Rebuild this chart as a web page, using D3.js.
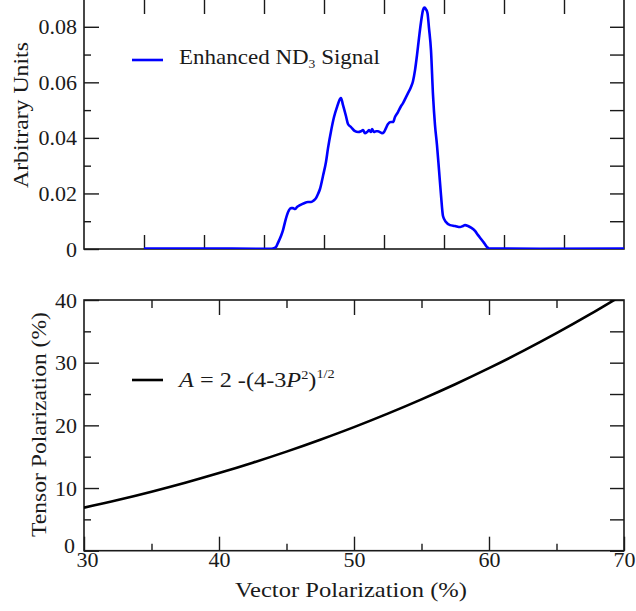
<!DOCTYPE html>
<html>
<head>
<meta charset="utf-8">
<script src="https://cdn.jsdelivr.net/npm/d3@7"></script>
<style>
  html, body { margin: 0; padding: 0; background: #fff; }
  svg { display: block; }
  text { font-family: "Liberation Serif", "DejaVu Serif", serif; fill: #1a1a1a; }
</style>
</head>
<body>
<svg id="chart" width="636" height="611"></svg>
<script>
// ---------- Data ----------
// Top panel: enhanced ND3 signal (arbitrary x units, arbitrary y units)
const signalX = [1.000, 1.933, 3.000, 3.100, 3.150, 3.200, 3.233, 3.283, 3.317, 3.350, 3.383, 3.417, 3.450, 3.483, 3.517, 3.550, 3.600, 3.667, 3.733, 3.783, 3.817, 3.867, 3.900, 3.933, 3.983, 4.033, 4.067, 4.117, 4.167, 4.217, 4.267, 4.283, 4.317, 4.367, 4.400, 4.450, 4.517, 4.567, 4.617, 4.650, 4.683, 4.717, 4.750, 4.783, 4.800, 4.833, 4.867, 4.900, 4.933, 4.967, 5.000, 5.033, 5.067, 5.117, 5.150, 5.183, 5.233, 5.283, 5.317, 5.367, 5.400, 5.450, 5.483, 5.517, 5.550, 5.583, 5.617, 5.650, 5.675, 5.700, 5.725, 5.750, 5.783, 5.817, 5.850, 5.883, 5.917, 5.950, 5.983, 6.033, 6.100, 6.183, 6.267, 6.317, 6.350, 6.400, 6.450, 6.517, 6.567, 6.617, 6.667, 6.717, 6.750, 7.600, 9.000];
const signalY = [0.0002, 0.0002, 0.0001, 0.0001, 0.0002, 0.0007, 0.0022, 0.0047, 0.0068, 0.0097, 0.0122, 0.0140, 0.0147, 0.0147, 0.0144, 0.0151, 0.0158, 0.0165, 0.0169, 0.0169, 0.0173, 0.0183, 0.0198, 0.0216, 0.0263, 0.0313, 0.0363, 0.0424, 0.0475, 0.0511, 0.0540, 0.0543, 0.0518, 0.0478, 0.0450, 0.0439, 0.0424, 0.0421, 0.0424, 0.0428, 0.0417, 0.0421, 0.0428, 0.0421, 0.0432, 0.0421, 0.0424, 0.0424, 0.0421, 0.0417, 0.0421, 0.0435, 0.0450, 0.0457, 0.0457, 0.0475, 0.0493, 0.0514, 0.0525, 0.0547, 0.0561, 0.0583, 0.0604, 0.0644, 0.0698, 0.0759, 0.0817, 0.0860, 0.0869, 0.0863, 0.0849, 0.0795, 0.0716, 0.0554, 0.0446, 0.0374, 0.0284, 0.0194, 0.0119, 0.0097, 0.0086, 0.0083, 0.0079, 0.0083, 0.0086, 0.0083, 0.0077, 0.0065, 0.0050, 0.0036, 0.0022, 0.0007, 0.0002, 0.0001, 0.0002];

// Bottom panel: tensor vs vector polarization (%)
const vectorPol = [30, 32.5, 35, 37.5, 40, 42.5, 45, 47.5, 50, 52.5, 55, 57.5, 60, 62.5, 65, 67.5, 70];
const tensorPol = [6.87, 8.08, 9.41, 10.84, 12.38, 14.04, 15.81, 17.71, 19.72, 21.87, 24.15, 26.56, 29.12, 31.83, 34.70, 37.73, 40.94];

// Ticks
const topXMajor = [1, 2, 3, 4, 5, 6, 7, 8];
const topYMajor = [0, 0.02, 0.04, 0.06, 0.08];
const topYMinor = [0.01, 0.03, 0.05, 0.07];
const topYAll = [0.01, 0.02, 0.03, 0.04, 0.05, 0.06, 0.07, 0.08];
const botXMajor = [30, 40, 50, 60, 70];
const botXMinor = [35, 45, 55, 65];
const botYMajor = [0, 10, 20, 30, 40];
const botYMinor = [5, 15, 25, 35];

// Labels
const topYTitle = "Arbitrary Units";
const botYTitle = "Tensor Polarization (%)";
const botXTitle = "Vector Polarization (%)";

// ---------- Chart ----------
const svg = d3.select("#chart");
const L = 84, R = 624;
const FS = 22;
const INK = "#1a1a1a";

function styleAxis(g) {
  g.select(".domain").remove();
  g.selectAll(".tick line").attr("stroke", INK).attr("stroke-width", 1.4);
  g.selectAll(".tick text").attr("font-size", FS).attr("fill", INK)
    .attr("font-family", "Liberation Serif, serif");
}

// text stretched horizontally (in its own frame) to a target advance width
function fitText(g, base, target) {
  const w = g.node().getBBox().width;
  const sx = target / w;
  g.attr("transform", base + ` scale(${sx},1)`);
}

// ----- top panel -----
const xT = d3.scaleLinear().domain([0, 9]).range([L, R]);
const yT = d3.scaleLinear().domain([0, 0.09]).range([249, -1]);

const defs = svg.append("defs");
defs.append("clipPath").attr("id", "clipTop")
  .append("rect").attr("x", L).attr("y", -1).attr("width", R - L).attr("height", 250);

svg.append("g").attr("transform", `translate(${L},0)`)
  .call(d3.axisLeft(yT).tickValues(topYMajor).tickSize(-15).tickPadding(7)
    .tickFormat(d => d === 0 ? "0" : d3.format(".2f")(d)))
  .call(styleAxis);
svg.append("g").attr("transform", `translate(${L},0)`)
  .call(d3.axisLeft(yT).tickValues(topYMinor).tickSize(-7).tickFormat(""))
  .call(styleAxis);
svg.append("g").attr("transform", `translate(${R},0)`)
  .call(d3.axisRight(yT).tickValues(topYAll).tickSize(-14).tickFormat(""))
  .call(styleAxis);
svg.append("g").attr("transform", `translate(0,249)`)
  .call(d3.axisBottom(xT).tickValues(topXMajor).tickSize(-14).tickFormat(""))
  .call(styleAxis);
svg.append("g").attr("transform", `translate(0,-1)`)
  .call(d3.axisTop(xT).tickValues(topXMajor).tickSize(-15).tickFormat(""))
  .call(styleAxis);

svg.append("rect").attr("x", L).attr("y", -1).attr("width", R - L).attr("height", 250)
  .attr("fill", "none").attr("stroke", INK).attr("stroke-width", 1.6);

const sigData = signalX.map((x, i) => [x, signalY[i]]);
svg.append("path").datum(sigData)
  .attr("clip-path", "url(#clipTop)")
  .attr("fill", "none").attr("stroke", "#0000ff").attr("stroke-width", 2.6)
  .attr("stroke-linejoin", "round")
  .attr("d", d3.line().x(d => xT(d[0])).y(d => yT(d[1])).curve(d3.curveMonotoneX));

const gTY = svg.append("g");
gTY.append("text").attr("text-anchor", "middle").attr("font-size", FS).text(topYTitle);
fitText(gTY, "translate(28,115) rotate(-90)", 146);

// legend top
svg.append("line").attr("x1", 132).attr("x2", 163).attr("y1", 60).attr("y2", 60)
  .attr("stroke", "#0000ff").attr("stroke-width", 2.6);
const gLT = svg.append("g");
const lt = gLT.append("text").attr("x", 0).attr("y", 0).attr("font-size", FS);
lt.append("tspan").text("Enhanced ND");
lt.append("tspan").attr("font-size", 13).attr("dy", 4).text("3");
lt.append("tspan").attr("dy", -4).text(" Signal");
fitText(gLT, "translate(179,63.5)", 201);

// ----- bottom panel -----
const B0 = 550.7, B1 = 300;
const xB = d3.scaleLinear().domain([30, 70]).range([L, R]);
const yB = d3.scaleLinear().domain([0, 40]).range([B0, B1]);

defs.append("clipPath").attr("id", "clipBot")
  .append("rect").attr("x", L).attr("y", B1).attr("width", R - L).attr("height", B0 - B1);

const gLeftB = svg.append("g").attr("transform", `translate(${L},0)`)
  .call(d3.axisLeft(yB).tickValues(botYMajor).tickSize(-15).tickPadding(7).tickFormat(d3.format("d")))
  .call(styleAxis);
// nudge the "0" label slightly so it does not collide with "30"
gLeftB.selectAll(".tick text").filter(d => d === 0).attr("dx", -2).attr("dy", "0.1em");
svg.append("g").attr("transform", `translate(${L},0)`)
  .call(d3.axisLeft(yB).tickValues(botYMinor).tickSize(-7).tickFormat(""))
  .call(styleAxis);
svg.append("g").attr("transform", `translate(${R},0)`)
  .call(d3.axisRight(yB).tickValues(botYMajor.concat(botYMinor)).tickSize(-14).tickFormat(""))
  .call(styleAxis);
const gBotB = svg.append("g").attr("transform", `translate(0,${B0})`)
  .call(d3.axisBottom(xB).tickValues(botXMajor).tickSize(-14).tickPadding(1).tickFormat(d3.format("d")))
  .call(styleAxis);
gBotB.selectAll(".tick text").filter(d => d === 30).attr("dx", 3);
svg.append("g").attr("transform", `translate(0,${B0})`)
  .call(d3.axisBottom(xB).tickValues(botXMinor).tickSize(-7).tickFormat(""))
  .call(styleAxis);
svg.append("g").attr("transform", `translate(0,${B1})`)
  .call(d3.axisTop(xB).tickValues(botXMajor.slice(1, -1)).tickSize(-15).tickFormat(""))
  .call(styleAxis);
svg.append("g").attr("transform", `translate(0,${B1})`)
  .call(d3.axisTop(xB).tickValues(botXMinor).tickSize(-8).tickFormat(""))
  .call(styleAxis);

svg.append("rect").attr("x", L).attr("y", B1).attr("width", R - L).attr("height", B0 - B1)
  .attr("fill", "none").attr("stroke", INK).attr("stroke-width", 1.6);

const polData = vectorPol.map((x, i) => [x, tensorPol[i]]);
svg.append("path").datum(polData)
  .attr("clip-path", "url(#clipBot)")
  .attr("fill", "none").attr("stroke", "#000").attr("stroke-width", 2.6)
  .attr("d", d3.line().x(d => xB(d[0])).y(d => yB(d[1])).curve(d3.curveMonotoneX));

const gBY = svg.append("g");
gBY.append("text").attr("text-anchor", "middle").attr("font-size", FS).text(botYTitle);
fitText(gBY, "translate(46,424.5) rotate(-90)", 225);

const gBX = svg.append("g");
gBX.append("text").attr("text-anchor", "middle").attr("font-size", FS).text(botXTitle);
fitText(gBX, "translate(351,597)", 232);

// legend bottom
svg.append("line").attr("x1", 132).attr("x2", 163).attr("y1", 380).attr("y2", 380)
  .attr("stroke", "#000").attr("stroke-width", 2.6);
const gLB = svg.append("g");
const lb = gLB.append("text").attr("x", 0).attr("y", 0).attr("font-size", FS);
lb.append("tspan").attr("font-style", "italic").text("A");
lb.append("tspan").text(" = 2 -(4-3");
lb.append("tspan").attr("font-style", "italic").text("P");
lb.append("tspan").attr("font-size", 13).attr("dy", -8).text("2");
lb.append("tspan").attr("dy", 8).text(")");
lb.append("tspan").attr("font-size", 13).attr("dy", -9).text("1/2");
fitText(gLB, "translate(179,387)", 158);
</script>
</body>
</html>
